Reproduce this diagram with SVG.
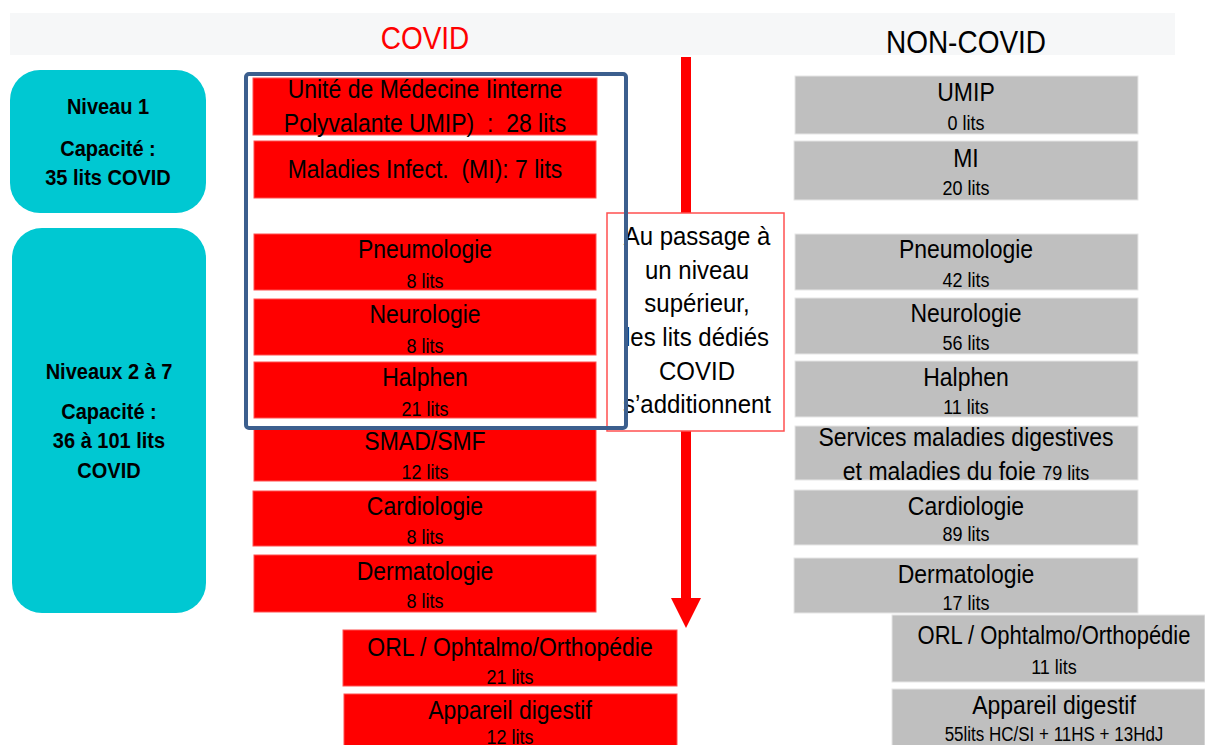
<svg xmlns="http://www.w3.org/2000/svg" width="1205" height="745" viewBox="0 0 1205 745">
<style>
text{font-family:"Liberation Sans",Arial,sans-serif;text-anchor:middle;fill:#000;white-space:pre}
.t{font-size:23px}
.s{font-size:18px}
.n{font-size:24px}
.b{font-size:20px;font-weight:bold}
.red{fill:#FF0000;stroke:#ff5050;stroke-width:1}
.gray{fill:#BFBFBF;stroke:#e6e6e6;stroke-width:1}
.cyan{fill:#00C8D2}
</style>
<rect x="10" y="13" width="1165" height="42" fill="#F6F7F8"/>
<text transform="translate(425,49) scale(1,1.1)" style="font-size:28px;fill:#FF0000">COVID</text>
<text transform="translate(966,53) scale(1,1.1)" style="font-size:28px">NON-COVID</text>

<g id="connectors">
<line x1="686" y1="57" x2="686" y2="600" stroke="#FF0000" stroke-width="10"/>
<polygon points="671,598 701,598 686,628" fill="#FF0000"/>
</g>

<g id="niveau1"><rect class="cyan" x="10" y="70" width="196" height="143" rx="30"/>
<text class="b" transform="translate(108,114) scale(1,1.1)">Niveau 1</text>
<text class="b" transform="translate(108,156) scale(1,1.1)">Capacité :</text>
<text class="b" transform="translate(108,185) scale(1,1.1)">35 lits COVID</text></g>
<g id="niveau2"><rect class="cyan" x="12" y="228" width="194" height="385" rx="30"/>
<text class="b" transform="translate(109,379) scale(1,1.1)">Niveaux 2 à 7</text>
<text class="b" transform="translate(109,419) scale(1,1.1)">Capacité :</text>
<text class="b" transform="translate(109,448) scale(1,1.1)">36 à 101 lits</text>
<text class="b" transform="translate(109,478) scale(1,1.1)">COVID</text></g>

<g id="note"><rect x="607" y="213" width="177" height="218" fill="#fff" stroke="#ff5050" stroke-width="1.5"/>
<text class="n" transform="translate(697,245) scale(1,1.1)">Au passage à</text>
<text class="n" transform="translate(697,279) scale(1,1.1)">un niveau</text>
<text class="n" transform="translate(697,312) scale(1,1.1)">supérieur,</text>
<text class="n" transform="translate(697,346) scale(1,1.1)">les lits dédiés</text>
<text class="n" transform="translate(697,380) scale(1,1.1)">COVID</text>
<text class="n" transform="translate(697,413) scale(1,1.1)">s’additionnent</text></g>

<g id="c-umip"><rect class="red" x="253" y="78" width="344" height="57"/>
<text class="t" transform="translate(425,98) scale(1,1.12)">Unité de Médecine Iinterne</text>
<text class="t" transform="translate(425,132) scale(1,1.12)">Polyvalante UMIP)  :  28 lits</text></g>
<g id="c-mi"><rect class="red" x="254" y="141" width="342" height="57"/>
<text class="t" transform="translate(425,178) scale(1,1.12)">Maladies Infect.  (MI): 7 lits</text></g>
<g id="c-pneumo"><rect class="red" x="254" y="234" width="342" height="56"/>
<text class="t" transform="translate(425,258) scale(1,1.12)">Pneumologie</text><text class="s" transform="translate(425,288) scale(1,1.12)">8 lits</text></g>
<g id="c-neuro"><rect class="red" x="254" y="299" width="342" height="56"/>
<text class="t" transform="translate(425,323) scale(1,1.12)">Neurologie</text><text class="s" transform="translate(425,353) scale(1,1.12)">8 lits</text></g>
<g id="c-halphen"><rect class="red" x="254" y="362" width="342" height="56"/>
<text class="t" transform="translate(425,386) scale(1,1.12)">Halphen</text><text class="s" transform="translate(425,416) scale(1,1.12)">21 lits</text></g>
<g id="c-smad"><rect class="red" x="254" y="427" width="342" height="54"/>
<text class="t" transform="translate(425,450) scale(1,1.12)">SMAD/SMF</text><text class="s" transform="translate(425,479) scale(1,1.12)">12 lits</text></g>
<g id="c-cardio"><rect class="red" x="253" y="491" width="343" height="55"/>
<text class="t" transform="translate(425,515) scale(1,1.12)">Cardiologie</text><text class="s" transform="translate(425,544) scale(1,1.12)">8 lits</text></g>
<g id="c-dermato"><rect class="red" x="254" y="555" width="342" height="57"/>
<text class="t" transform="translate(425,580) scale(1,1.12)">Dermatologie</text><text class="s" transform="translate(425,608) scale(1,1.12)">8 lits</text></g>
<g id="c-orl"><rect class="red" x="343" y="630" width="334" height="56"/>
<text class="t" transform="translate(510,656) scale(1,1.12)">ORL / Ophtalmo/Orthopédie</text><text class="s" transform="translate(510,684) scale(1,1.12)">21 lits</text></g>
<g id="c-digestif"><rect class="red" x="344" y="694" width="333" height="60"/>
<text class="t" transform="translate(510,719) scale(1,1.12)">Appareil digestif</text><text class="s" transform="translate(510,744) scale(1,1.12)">12 lits</text></g>

<g id="frame"><rect x="246" y="74" width="380" height="354" rx="3" fill="none" stroke="#3C5F8E" stroke-width="4"/></g>

<g id="n-umip"><rect class="gray" x="795" y="76" width="343" height="58"/>
<text class="t" transform="translate(966,101) scale(1,1.12)">UMIP</text><text class="s" transform="translate(966,130) scale(1,1.12)">0 lits</text></g>
<g id="n-mi"><rect class="gray" x="794" y="141" width="344" height="59"/>
<text class="t" transform="translate(966,167) scale(1,1.12)">MI</text><text class="s" transform="translate(966,195) scale(1,1.12)">20 lits</text></g>
<g id="n-pneumo"><rect class="gray" x="795" y="234" width="343" height="56"/>
<text class="t" transform="translate(966,258) scale(1,1.12)">Pneumologie</text><text class="s" transform="translate(966,287) scale(1,1.12)">42 lits</text></g>
<g id="n-neuro"><rect class="gray" x="795" y="298" width="343" height="56"/>
<text class="t" transform="translate(966,322) scale(1,1.12)">Neurologie</text><text class="s" transform="translate(966,350) scale(1,1.12)">56 lits</text></g>
<g id="n-halphen"><rect class="gray" x="795" y="361" width="343" height="56"/>
<text class="t" transform="translate(966,386) scale(1,1.12)">Halphen</text><text class="s" transform="translate(966,414) scale(1,1.12)">11 lits</text></g>
<g id="n-smad"><rect class="gray" x="795" y="426" width="343" height="54"/>
<text class="t" transform="translate(966,446) scale(1,1.12)">Services maladies digestives</text>
<text class="t" transform="translate(966,480) scale(1,1.12)">et maladies du foie <tspan class="s">79 lits</tspan></text></g>
<g id="n-cardio"><rect class="gray" x="794" y="490" width="344" height="55"/>
<text class="t" transform="translate(966,515) scale(1,1.12)">Cardiologie</text><text class="s" transform="translate(966,541) scale(1,1.12)">89 lits</text></g>
<g id="n-dermato"><rect class="gray" x="794" y="558" width="344" height="55"/>
<text class="t" transform="translate(966,583) scale(1,1.12)">Dermatologie</text><text class="s" transform="translate(966,610) scale(1,1.12)">17 lits</text></g>
<g id="n-orl"><rect class="gray" x="892" y="615" width="313" height="67"/>
<text class="t" transform="translate(1054,644) scale(1,1.15)" style="font-size:22px">ORL / Ophtalmo/Orthopédie</text><text class="s" transform="translate(1054,674) scale(1,1.12)">11 lits</text></g>
<g id="n-digestif"><rect class="gray" x="892" y="689" width="313" height="60"/>
<text class="t" transform="translate(1054,714) scale(1,1.12)">Appareil digestif</text><text class="s" transform="translate(1054,741) scale(1,1.18)" style="font-size:17px">55lits HC/SI + 11HS + 13HdJ</text></g>
</svg>
